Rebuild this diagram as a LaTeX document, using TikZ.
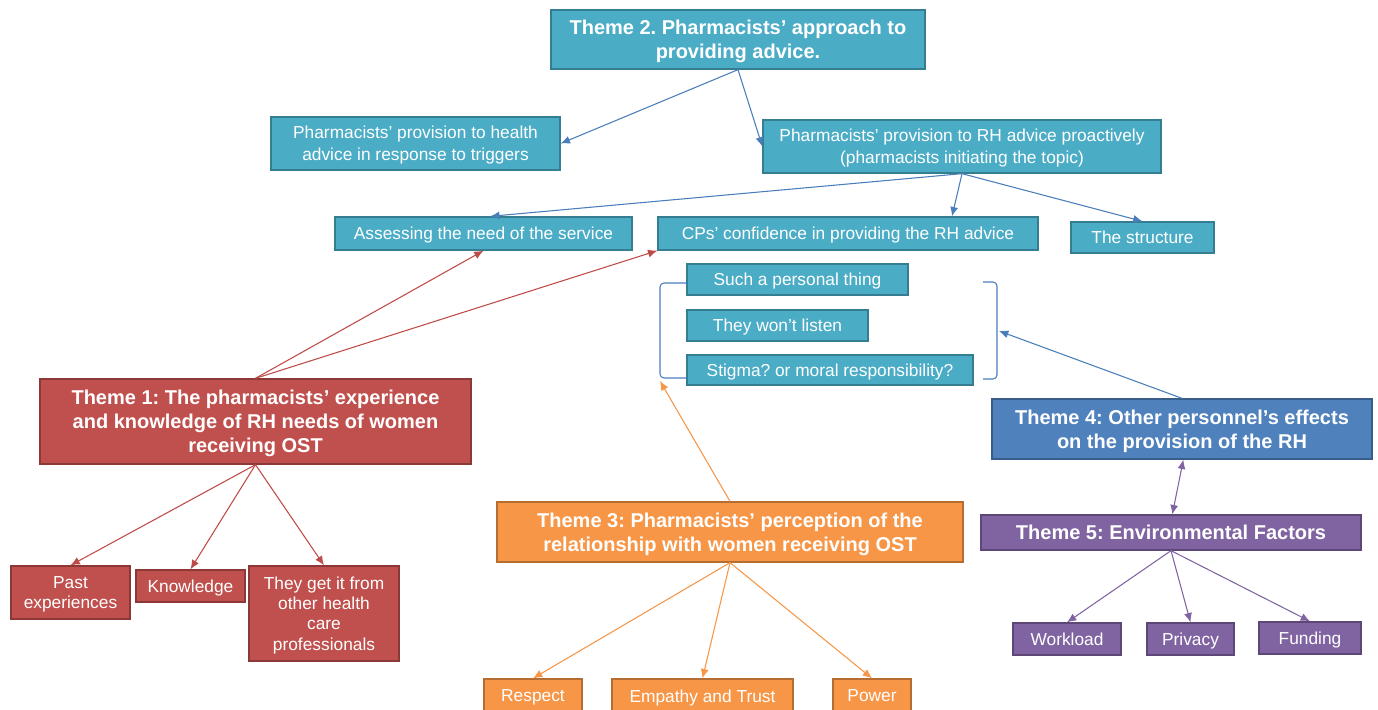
\documentclass[tikz,border=0pt]{standalone}
\usepackage{fontspec}
\setmainfont{Liberation Sans}
\usetikzlibrary{arrows.meta}
\frenchspacing
\definecolor{teal1}{HTML}{4BACC6}
\definecolor{teal2}{HTML}{357D91}
\definecolor{red1}{HTML}{C0504D}
\definecolor{red2}{HTML}{8C3836}
\definecolor{ora1}{HTML}{F79646}
\definecolor{ora2}{HTML}{B66D31}
\definecolor{blu1}{HTML}{4F81BD}
\definecolor{blu2}{HTML}{385D8A}
\definecolor{pur1}{HTML}{8064A2}
\definecolor{pur2}{HTML}{5C4776}
\definecolor{arrblue}{HTML}{4A7EBB}
\definecolor{arrred}{HTML}{BE4B48}
\tikzset{
  box/.style={draw, line width=1pt, text=white, align=center, inner sep=0pt, text depth=0pt, font=\fontsize{13}{16.5}\selectfont},
  tight/.style={font=\fontsize{13}{15.3}\selectfont},
  theme/.style={box, font=\bfseries\fontsize{15}{18}\selectfont},
  tealbox/.style={fill=teal1, draw=teal2},
  redbox/.style={fill=red1, draw=red2},
  orabox/.style={fill=ora1, draw=ora2},
  blubox/.style={fill=blu1, draw=blu2},
  purbox/.style={fill=pur1, draw=pur2},
  arr/.style={line width=0.8pt, -{Latex[length=7pt,width=6pt]}},
  barr/.style={arr, arrblue},
  rarr/.style={arr, arrred},
  oarr/.style={arr, ora1},
  parr/.style={arr, pur1},
  brk/.style={draw=arrblue, line width=0.8pt, rounded corners=3pt},
}
\begin{document}
\begin{tikzpicture}[x=0.75pt, y=-0.75pt]
\useasboundingbox (0,0) rectangle (1378,710);
\clip (0,0) rectangle (1378,710);
% Theme 2
\node[theme, tealbox, minimum width=280.5pt, minimum height=44.25pt] (T2) at (738,39.5) {Theme 2. Pharmacists’ approach to\\providing advice.};
\node[box, tealbox, minimum width=216.75pt, minimum height=39.75pt] (A1) at (415.5,143.5) {Pharmacists’ provision to health\\advice in response to triggers};
\node[box, tealbox, minimum width=298.5pt, minimum height=39.75pt] (A2) at (962,146.5) {Pharmacists’ provision to RH advice proactively\\(pharmacists initiating the topic)};
\node[box, tealbox, minimum width=222.75pt, minimum height=24.75pt] (B1) at (483.5,233.5) {Assessing the need of the service};
\node[box, tealbox, minimum width=285pt, minimum height=24.75pt] (B2) at (848,233.5) {CPs’ confidence in providing the RH advice};
\node[box, tealbox, minimum width=107.25pt, minimum height=23.25pt] (B3) at (1142.5,237.5) {The structure};
\node[box, tealbox, minimum width=165.75pt, minimum height=23.25pt] (S1) at (797.5,279.5) {Such a personal thing};
\node[box, tealbox, minimum width=135.75pt, minimum height=23.25pt] (S2) at (777.5,325.5) {They won’t listen};
\node[box, tealbox, minimum width=214.5pt, minimum height=22.5pt] (S3) at (830,370) {Stigma? or moral responsibility?};
% brackets
\coordinate (lb1) at (687,283);
\coordinate (lb2) at (660,283);
\coordinate (lb3) at (660,378);
\coordinate (lb4) at (687,378);
\coordinate (lbt) at (660,381);
\coordinate (rb1) at (983,282);
\coordinate (rb2) at (997,282);
\coordinate (rb3) at (997,379);
\coordinate (rb4) at (983,379);
\coordinate (rbt) at (999,331);
\draw[brk] (lb1) -- (lb2) -- (lb3) -- (lb4);
\draw[brk] (rb1) -- (rb2) -- (rb3) -- (rb4);
% Theme 1
\node[theme, redbox, minimum width=323.25pt, minimum height=63.75pt] (T1) at (255.5,421.5) {Theme 1: The pharmacists’ experience\\and knowledge of RH needs of women\\receiving OST};
\node[box, tight, redbox, minimum width=89.25pt, minimum height=39.75pt] (P1) at (70.5,592.5) {Past\\experiences};
\node[box, redbox, minimum width=81.75pt, minimum height=24pt] (P2) at (190.5,586) {Knowledge};
\node[box, tight, redbox, minimum width=112.5pt, minimum height=71.25pt] (P3) at (324,613.5) {They get it from\\other health\\care\\professionals};
% Theme 3
\node[theme, orabox, minimum width=349.5pt, minimum height=45pt] (T3) at (730,532) {Theme 3: Pharmacists’ perception of the\\relationship with women receiving OST};
\node[box, orabox, minimum width=73.5pt, minimum height=25.5pt] (O1) at (533,696) {Respect};
\node[box, orabox, minimum width=135.75pt, minimum height=25.5pt] (O2) at (702.5,696) {Empathy and Trust};
\node[box, orabox, minimum width=58.5pt, minimum height=25.5pt] (O3) at (872,696) {Power};
% Theme 4 and 5
\node[theme, blubox, minimum width=285pt, minimum height=45pt] (T4) at (1182,429) {Theme 4: Other personnel’s effects\\on the provision of the RH};
\node[theme, purbox, minimum width=285pt, minimum height=26.25pt] (T5) at (1171,532.5) {Theme 5: Environmental Factors};
\node[box, purbox, minimum width=81pt, minimum height=24pt] (E1) at (1067,639) {Workload};
\node[box, purbox, minimum width=65.25pt, minimum height=24pt] (E2) at (1190.5,639) {Privacy};
\node[box, purbox, minimum width=76.5pt, minimum height=24pt] (E3) at (1310,638) {Funding};
% connectors
\draw[barr] (T2.south) -- (A1.east);
\draw[barr] (T2.south) -- (A2.west);
\draw[barr] (A2.south) -- ([xshift=5pt]B1.north);
\draw[barr] (A2.south) -- ([xshift=78pt]B2.north);
\draw[barr] (A2.south) -- (B3.north);
\draw[rarr] (T1.north) -- (B1.south);
\draw[rarr] (T1.north) -- (B2.south west);
\draw[rarr] (T1.south) -- (P1.north);
\draw[rarr] (T1.south) -- (P2.north);
\draw[rarr] (T1.south) -- (P3.north);
\draw[oarr] (T3.north) -- (lbt);
\draw[oarr] (T3.south) -- (O1.north);
\draw[oarr] (T3.south) -- (O2.north);
\draw[oarr] (T3.south) -- (O3.north);
\draw[barr] (T4.north) -- (rbt);
\draw[parr, {Latex[length=7pt,width=6pt]}-{Latex[length=7pt,width=6pt]}] ([xshift=1pt]T4.south) -- ([xshift=1pt]T5.north);
\draw[parr] (T5.south) -- (E1.north);
\draw[parr] (T5.south) -- (E2.north);
\draw[parr] (T5.south) -- (E3.north);
\end{tikzpicture}
\end{document}
